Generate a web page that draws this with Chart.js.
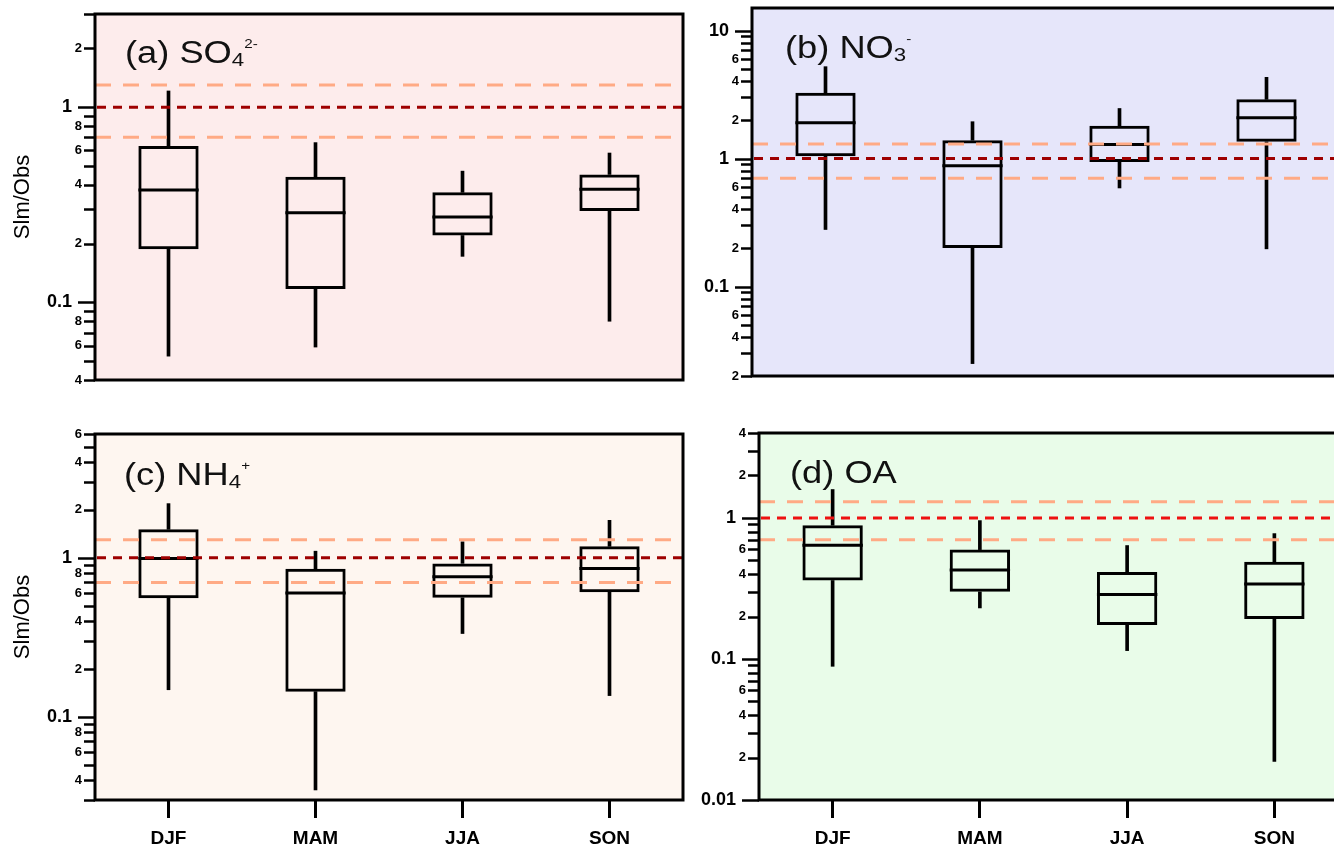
<!DOCTYPE html>
<html lang="en">
<head>
<meta charset="UTF-8">
<title>Sim/Obs seasonal box plots</title>
<script src="https://cdn.jsdelivr.net/npm/chart.js"></script>
<style>
    body {
        margin: 0;
        width: 1334px;
        height: 850px;
        overflow: hidden;
        background: #fff;
        position: relative;
        font-family: Arial, "Liberation Sans", sans-serif;
    }
    .panel { position: absolute; }
    .ttl {
        position: absolute;
        font-size: 31px;
        line-height: 31px;
        color: #111;
        white-space: nowrap;
        transform: scaleX(1.17);
        transform-origin: left top;
    }
    .ttl .sb { font-size: 19px; position: relative; top: 3px; }
    .ttl .sp { font-size: 13px; position: relative; top: -15px; }
</style>
</head>
<body>
<div class="panel" style="left:0;top:0"><canvas id="chartA" width="700" height="400"></canvas></div>
<div class="panel" style="left:667px;top:0"><canvas id="chartB" width="700" height="400"></canvas></div>
<div class="panel" style="left:0;top:410px"><canvas id="chartC" width="700" height="440"></canvas></div>
<div class="panel" style="left:667px;top:410px"><canvas id="chartD" width="700" height="440"></canvas></div>

<div class="ttl" style="left:125px;top:37px">(a) SO<span class="sb">4</span><span class="sp">2-</span></div>
<div class="ttl" style="left:785px;top:32px">(b) NO<span class="sb">3</span><span class="sp">-</span></div>
<div class="ttl" style="left:124px;top:459px">(c) NH<span class="sb">4</span><span class="sp">+</span></div>
<div class="ttl" style="left:790px;top:457px">(d) OA</div>

<script>
    const seasons = ['DJF', 'MAM', 'JJA', 'SON'];

    // (a) SO4 2-
    const so4Min = [0.053, 0.059, 0.172, 0.080];
    const so4Q1  = [0.187, 0.117, 0.220, 0.294];
    const so4Med = [0.376, 0.288, 0.274, 0.380];
    const so4Q3  = [0.632, 0.440, 0.366, 0.452];
    const so4Max = [1.21, 0.658, 0.470, 0.582];

    // (b) NO3-
    const no3Min = [0.279, 0.025, 0.589, 0.197];
    const no3Q1  = [1.04, 0.20, 0.94, 1.35];
    const no3Med = [1.90, 0.877, 1.29, 2.08];
    const no3Q3  = [3.27, 1.39, 1.80, 2.90];
    const no3Max = [5.22, 1.94, 2.46, 4.31];

    // (c) NH4+
    const nh4Min = [0.148, 0.0347, 0.334, 0.136];
    const nh4Q1  = [0.557, 0.144, 0.56, 0.608];
    const nh4Med = [0.99, 0.60, 0.761, 0.857];
    const nh4Q3  = [1.51, 0.854, 0.922, 1.18];
    const nh4Max = [2.19, 1.10, 1.26, 1.72];

    // (d) OA
    const oaMin = [0.0887, 0.23, 0.1146, 0.0188];
    const oaQ1  = [0.36, 0.299, 0.174, 0.192];
    const oaMed = [0.64, 0.428, 0.286, 0.34];
    const oaQ3  = [0.887, 0.596, 0.414, 0.488];
    const oaMax = [1.59, 0.957, 0.637, 0.774];

    // reference lines: factor-of-1.3 band and the 1:1 line
    const bandLines = [1.3, 0.7];
    const unityLine = [1];

    // y ranges
    const rangeA = [0.04, 3];
    const rangeB = [0.02, 15];
    const rangeC = [0.03, 6];
    const rangeD = [0.01, 4];

    // labelled y ticks
    const majorVals = [0.01, 0.1, 1, 10];
    const labelValsA = [0.04, 0.06, 0.08, 0.1, 0.2, 0.4, 0.6, 0.8, 1, 2];
    const labelTextA = ['4', '6', '8', '0.1', '2', '4', '6', '8', '1', '2'];
    const labelValsB = [0.02, 0.04, 0.06, 0.1, 0.2, 0.4, 0.6, 1, 2, 4, 6, 10];
    const labelTextB = ['2', '4', '6', '0.1', '2', '4', '6', '1', '2', '4', '6', '10'];
    const labelValsC = [0.04, 0.06, 0.08, 0.1, 0.2, 0.4, 0.6, 0.8, 1, 2, 4, 6];
    const labelTextC = ['4', '6', '8', '0.1', '2', '4', '6', '8', '1', '2', '4', '6'];
    const labelValsD = [0.01, 0.02, 0.04, 0.06, 0.1, 0.2, 0.4, 0.6, 1, 2, 4];
    const labelTextD = ['0.01', '2', '4', '6', '0.1', '2', '4', '6', '1', '2', '4'];

    const FONT = 'Arial, "Liberation Sans", sans-serif';

    function sameVal(a, b) {
        return Math.abs(Math.log10(a) - Math.log10(b)) < 1e-6;
    }
    function isMajor(v) {
        return majorVals.some(m => sameVal(m, v));
    }

    // every k*10^n tick inside the range
    function logTicks(min, max) {
        const out = [];
        for (let d = Math.floor(Math.log10(min)); d <= Math.ceil(Math.log10(max)); d++) {
            for (let k = 1; k <= 9; k++) {
                const v = parseFloat((k * Math.pow(10, d)).toPrecision(3));
                if (v >= min * 0.999 && v <= max * 1.001) out.push(v);
            }
        }
        return out;
    }

    const panelPlugin = {
        id: 'panel',
        beforeDraw(chart, args, opts) {
            const { ctx, chartArea: a } = chart;
            ctx.save();
            ctx.fillStyle = opts.bg;
            ctx.fillRect(a.left, a.top, a.width, a.height);
            ctx.restore();
        },
        afterDatasetsDraw(chart, args, opts) {
            const { ctx, chartArea: a } = chart;
            const y = chart.scales.y;
            ctx.save();
            // medians across each box
            ctx.strokeStyle = '#000';
            ctx.lineWidth = 3;
            chart.getDatasetMeta(2).data.forEach((bar, i) => {
                const py = y.getPixelForValue(opts.med[i]);
                ctx.beginPath();
                ctx.moveTo(bar.x - bar.width / 2, py);
                ctx.lineTo(bar.x + bar.width / 2, py);
                ctx.stroke();
            });
            ctx.beginPath();
            ctx.rect(a.left, a.top, a.width, a.height);
            ctx.clip();
            ctx.lineWidth = 3;
            ctx.setLineDash([16, 12]);
            ctx.strokeStyle = '#ffaa85';
            bandLines.forEach(v => {
                const py = y.getPixelForValue(v);
                ctx.beginPath();
                ctx.moveTo(a.left, py);
                ctx.lineTo(a.right, py);
                ctx.stroke();
            });
            ctx.setLineDash([9, 7]);
            ctx.strokeStyle = opts.unityColor;
            unityLine.forEach(v => {
                const py = y.getPixelForValue(v);
                ctx.beginPath();
                ctx.moveTo(a.left + 2, py);
                ctx.lineTo(a.right, py);
                ctx.stroke();
            });
            ctx.restore();
        },
        afterDraw(chart, args, opts) {
            const { ctx, chartArea: a } = chart;
            const y = chart.scales.y;
            ctx.save();
            ctx.strokeStyle = '#000';
            ctx.lineWidth = 2.5;
            y.ticks.forEach(t => {
                const py = Math.round(y.getPixelForValue(t.value)) + 0.5;
                const len = isMajor(t.value) ? 17 : 11;
                ctx.beginPath();
                ctx.moveTo(a.left - len, py);
                ctx.lineTo(a.left, py);
                ctx.stroke();
            });
            ctx.lineWidth = 3;
            ctx.strokeRect(a.left, a.top, a.width, a.height);
            ctx.restore();
        }
    };

    function makePanel(id, p) {
        const ticks = logTicks(p.range[0], p.range[1]);
        return new Chart(document.getElementById(id), {
            type: 'bar',
            data: {
                labels: seasons,
                datasets: [
                    {
                        data: seasons.map((s, i) => [p.min[i], p.q1[i]]),
                        backgroundColor: '#000',
                        borderWidth: 0,
                        barThickness: 3,
                        grouped: false
                    },
                    {
                        data: seasons.map((s, i) => [p.q3[i], p.max[i]]),
                        backgroundColor: '#000',
                        borderWidth: 0,
                        barThickness: 3,
                        grouped: false
                    },
                    {
                        data: seasons.map((s, i) => [p.q1[i], p.q3[i]]),
                        backgroundColor: 'rgba(0,0,0,0)',
                        borderColor: '#000',
                        borderWidth: 3,
                        borderSkipped: false,
                        barPercentage: 0.41,
                        categoryPercentage: 1,
                        grouped: false
                    }
                ]
            },
            options: {
                responsive: false,
                animation: false,
                devicePixelRatio: 1,
                layout: { padding: p.pad },
                plugins: {
                    legend: { display: false },
                    tooltip: { enabled: false },
                    panel: { bg: p.bg, med: p.med, unityColor: p.unityColor }
                },
                scales: {
                    x: {
                        display: p.showX,
                        offset: true,
                        border: { display: false },
                        grid: {
                            offset: false,
                            drawOnChartArea: false,
                            drawTicks: true,
                            tickLength: 18,
                            tickWidth: 3,
                            tickColor: '#000'
                        },
                        ticks: {
                            color: '#000',
                            padding: 9,
                            font: { family: FONT, size: 19, weight: 'bold' }
                        },
                        afterFit(scale) {
                            if (p.showX) scale.height = 50;
                            scale.paddingLeft = 0;
                            scale.paddingRight = 0;
                        }
                    },
                    y: {
                        type: 'logarithmic',
                        min: p.range[0],
                        max: p.range[1],
                        border: { display: false },
                        grid: { display: false, drawTicks: false },
                        title: {
                            display: p.showTitle,
                            text: 'Slm/Obs',
                            color: '#000',
                            padding: { top: 10, bottom: 0 },
                            font: { family: FONT, size: 22 }
                        },
                        afterBuildTicks(scale) {
                            scale.ticks = ticks.map(v => ({ value: v }));
                        },
                        afterFit(scale) {
                            scale.width = p.axisW;
                            scale.paddingTop = 0;
                            scale.paddingBottom = 0;
                        },
                        ticks: {
                            autoSkip: false,
                            padding: 13,
                            color: '#000',
                            callback(value) {
                                const i = p.labelVals.findIndex(v => sameVal(v, value));
                                if (i < 0) return '';
                                return isMajor(value) ? p.labelText[i] + '  ' : p.labelText[i];
                            },
                            font(ctx) {
                                const v = ctx.tick ? ctx.tick.value : 1;
                                return isMajor(v)
                                    ? { family: FONT, size: 18, weight: 'bold', lineHeight: 1 }
                                    : { family: FONT, size: 13, weight: 'bold', lineHeight: 1 };
                            }
                        }
                    }
                }
            },
            plugins: [panelPlugin]
        });
    }

    makePanel('chartA', {
        min: so4Min, q1: so4Q1, med: so4Med, q3: so4Q3, max: so4Max,
        range: rangeA, labelVals: labelValsA, labelText: labelTextA,
        bg: '#fdecec', unityColor: '#9e0000',
        axisW: 95, pad: { top: 14, right: 17, bottom: 20, left: 0 },
        showX: false, showTitle: true
    });
    makePanel('chartB', {
        min: no3Min, q1: no3Q1, med: no3Med, q3: no3Q3, max: no3Max,
        range: rangeB, labelVals: labelValsB, labelText: labelTextB,
        bg: '#e6e6fa', unityColor: '#9e0000',
        axisW: 85, pad: { top: 8, right: 27, bottom: 24, left: 0 },
        showX: false, showTitle: false
    });
    makePanel('chartC', {
        min: nh4Min, q1: nh4Q1, med: nh4Med, q3: nh4Q3, max: nh4Max,
        range: rangeC, labelVals: labelValsC, labelText: labelTextC,
        bg: '#fef6f0', unityColor: '#9e0000',
        axisW: 95, pad: { top: 24, right: 17, bottom: 0, left: 0 },
        showX: true, showTitle: true
    });
    makePanel('chartD', {
        min: oaMin, q1: oaQ1, med: oaMed, q3: oaQ3, max: oaMax,
        range: rangeD, labelVals: labelValsD, labelText: labelTextD,
        bg: '#e9fce9', unityColor: '#ee1111',
        axisW: 92, pad: { top: 23, right: 19, bottom: 0, left: 0 },
        showX: true, showTitle: false
    });
</script>
</body>
</html>
